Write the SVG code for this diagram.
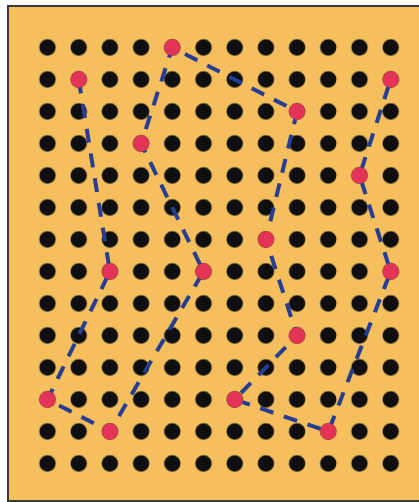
<svg xmlns="http://www.w3.org/2000/svg" width="419" height="502" viewBox="0 0 419 502">
<style>
.node{fill:#e33457;}
.link{fill:none;stroke:#253d92;stroke-width:4;stroke-dasharray:14 11;stroke-linejoin:round;}
</style>
<defs>
<pattern id="dots" patternUnits="userSpaceOnUse" x="31.9" y="31.5" width="31.2" height="32">
<circle cx="15.6" cy="16" r="8.2" fill="#0f0f12"/>
</pattern>
</defs>
<rect x="0" y="0" width="419" height="502" fill="#ffffff"/>
<rect x="8" y="6" width="420" height="495" fill="#f4bf5c" stroke="#3a3a3a" stroke-width="2"/>
<rect id="grid" x="31.9" y="31.5" width="374.4" height="448" fill="url(#dots)"/>
<g id="connectors">
<polyline class="link" points="78.7,79.5 109.9,271.5 47.5,399.5 109.9,431.5 203.5,271.5 141.1,143.5 172.3,47.5 297.1,111.5 265.9,239.5 297.1,335.5 234.7,399.5 328.3,431.5 390.7,271.5 359.5,175.5 390.7,79.5"/>
</g>
<g id="p1"><circle class="node" cx="78.7" cy="79.5" r="8.2"/></g>
<g id="p2"><circle class="node" cx="109.9" cy="271.5" r="8.2"/></g>
<g id="p3"><circle class="node" cx="47.5" cy="399.5" r="8.2"/></g>
<g id="p4"><circle class="node" cx="109.9" cy="431.5" r="8.2"/></g>
<g id="p5"><circle class="node" cx="203.5" cy="271.5" r="8.2"/></g>
<g id="p6"><circle class="node" cx="141.1" cy="143.5" r="8.2"/></g>
<g id="p7"><circle class="node" cx="172.3" cy="47.5" r="8.2"/></g>
<g id="p8"><circle class="node" cx="297.1" cy="111.5" r="8.2"/></g>
<g id="p9"><circle class="node" cx="265.9" cy="239.5" r="8.2"/></g>
<g id="p10"><circle class="node" cx="297.1" cy="335.5" r="8.2"/></g>
<g id="p11"><circle class="node" cx="234.7" cy="399.5" r="8.2"/></g>
<g id="p12"><circle class="node" cx="328.3" cy="431.5" r="8.2"/></g>
<g id="p13"><circle class="node" cx="390.7" cy="271.5" r="8.2"/></g>
<g id="p14"><circle class="node" cx="359.5" cy="175.5" r="8.2"/></g>
<g id="p15"><circle class="node" cx="390.7" cy="79.5" r="8.2"/></g>
</svg>
